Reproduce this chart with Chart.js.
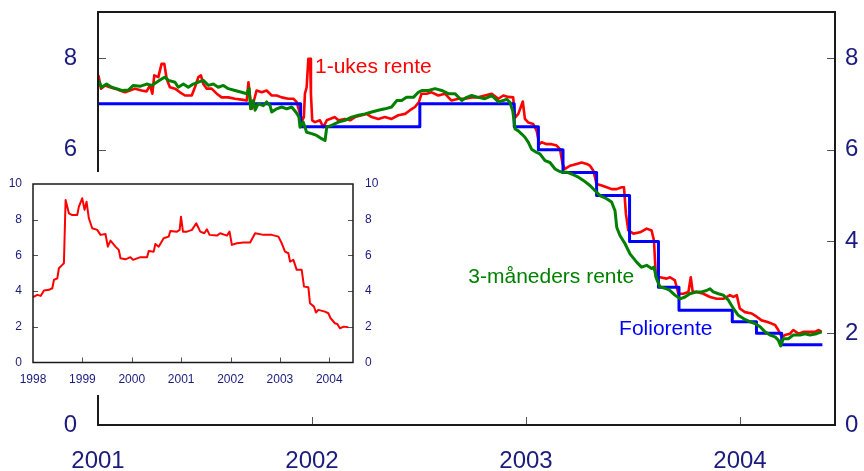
<!DOCTYPE html>
<html>
<head>
<meta charset="utf-8">
<script src="https://cdn.jsdelivr.net/npm/chart.js@4"></script>
<style>
  body { margin: 0; background: #fff; }
  #wrap { position: relative; width: 864px; height: 471px; }
  #main { position: absolute; left: 0; top: 0; }
  #inset { position: absolute; left: 0; top: 172px; background: #fff; }
</style>
</head>
<body>
<div id="wrap">
  <canvas id="main" width="864" height="471"></canvas>
  <canvas id="inset" width="385" height="223"></canvas>
</div>
<script>
// hovedfigur: år som desimaltall, rente i prosent
var mainYears = [2001, 2002, 2003, 2004];
var mainLevels = [0, 2, 4, 6, 8];

var folioX = [2001.0, 2001.947, 2002.504, 2002.945, 2003.058, 2003.173, 2003.33, 2003.484, 2003.619, 2003.715, 2003.964, 2004.077, 2004.195, 2004.385];
var folioY = [7.0, 6.5, 7.0, 6.5, 6.0, 5.5, 5.0, 4.0, 3.0, 2.5, 2.25, 2.0, 1.75, 1.75];

var ukesX = [2001.002, 2001.014, 2001.033, 2001.056, 2001.079, 2001.103, 2001.126, 2001.149, 2001.173, 2001.204,
  2001.227, 2001.243, 2001.254, 2001.263, 2001.282, 2001.297, 2001.310, 2001.321, 2001.336, 2001.360,
  2001.383, 2001.407, 2001.438, 2001.453, 2001.469, 2001.481, 2001.492, 2001.508, 2001.531, 2001.555,
  2001.578, 2001.609, 2001.640, 2001.671, 2001.695, 2001.703, 2001.710, 2001.718, 2001.731, 2001.741,
  2001.765, 2001.788, 2001.812, 2001.835, 2001.858, 2001.889, 2001.913, 2001.928, 2001.944, 2001.955,
  2001.962, 2001.967, 2001.975, 2001.983, 2001.991, 2001.995, 2002.001, 2002.014, 2002.037, 2002.053,
  2002.069, 2002.084, 2002.107, 2002.123, 2002.154, 2002.178, 2002.201, 2002.232, 2002.255, 2002.279,
  2002.310, 2002.341, 2002.372, 2002.403, 2002.435, 2002.458, 2002.481, 2002.500, 2002.512, 2002.536,
  2002.559, 2002.590, 2002.621, 2002.652, 2002.684, 2002.715, 2002.746, 2002.777, 2002.808, 2002.840,
  2002.871, 2002.894, 2002.917, 2002.940, 2002.949, 2002.964, 2002.975, 2002.985, 2002.995, 2003.011,
  2003.034, 2003.050, 2003.062, 2003.073, 2003.097, 2003.120, 2003.143, 2003.159, 2003.171, 2003.182,
  2003.206, 2003.237, 2003.260, 2003.284, 2003.299, 2003.315, 2003.330, 2003.354, 2003.377, 2003.400,
  2003.424, 2003.447, 2003.458, 2003.467, 2003.478, 2003.502, 2003.533, 2003.564, 2003.587, 2003.598,
  2003.607, 2003.626, 2003.657, 2003.673, 2003.696, 2003.712, 2003.735, 2003.759, 2003.770, 2003.779,
  2003.798, 2003.829, 2003.860, 2003.891, 2003.922, 2003.953, 2003.969, 2003.985, 2003.999, 2004.023,
  2004.055, 2004.078, 2004.101, 2004.125, 2004.148, 2004.164, 2004.179, 2004.195, 2004.210, 2004.234,
  2004.249, 2004.273, 2004.296, 2004.327, 2004.351, 2004.366, 2004.382];
var ukesY = [7.62, 7.33, 7.40, 7.36, 7.33, 7.29, 7.25, 7.29, 7.33, 7.29,
  7.27, 7.40, 7.22, 7.62, 7.58, 7.87, 7.87, 7.54, 7.36, 7.33,
  7.25, 7.18, 7.18, 7.36, 7.58, 7.62, 7.43, 7.33, 7.33, 7.22,
  7.14, 7.14, 7.11, 7.09, 7.07, 7.47, 7.18, 6.89, 7.11, 7.29,
  7.25, 7.29, 7.18, 7.18, 7.14, 7.11, 7.11, 7.04, 6.78, 6.64,
  6.71, 7.22, 7.36, 7.98, 7.98, 7.22, 6.64, 6.60, 6.64, 6.49,
  6.64, 6.67, 6.71, 6.64, 6.67, 6.64, 6.71, 6.75, 6.78, 6.71,
  6.67, 6.71, 6.67, 6.75, 6.78, 6.86, 6.93, 7.04, 7.22, 7.22,
  7.25, 7.18, 7.22, 7.07, 7.11, 7.11, 7.14, 7.14, 7.18, 7.22,
  7.11, 7.18, 7.15, 7.14, 6.70, 6.78, 6.92, 7.05, 6.67, 6.59,
  6.56, 6.41, 6.12, 6.16, 6.12, 6.12, 6.09, 6.01, 5.69, 5.58,
  5.65, 5.69, 5.72, 5.69, 5.65, 5.54, 5.25, 5.22, 5.18, 5.14,
  5.14, 5.18, 5.18, 4.60, 4.24, 4.17, 4.20, 4.28, 4.24, 4.02,
  3.22, 3.22, 3.19, 3.22, 3.15, 2.86, 2.86, 2.90, 3.22, 2.90,
  2.90, 2.86, 2.79, 2.75, 2.75, 2.83, 2.79, 2.83, 2.54, 2.46,
  2.43, 2.36, 2.28, 2.25, 2.21, 2.18, 2.07, 1.92, 1.96, 1.99,
  2.07, 1.99, 2.03, 2.03, 2.03, 2.07, 2.03];

var mndX = [2001.002, 2001.017, 2001.040, 2001.064, 2001.087, 2001.111, 2001.142, 2001.165, 2001.196, 2001.227,
  2001.251, 2001.274, 2001.297, 2001.313, 2001.329, 2001.360, 2001.375, 2001.399, 2001.422, 2001.445,
  2001.469, 2001.492, 2001.516, 2001.539, 2001.562, 2001.586, 2001.609, 2001.640, 2001.671, 2001.695,
  2001.706, 2001.713, 2001.726, 2001.734, 2001.749, 2001.773, 2001.788, 2001.804, 2001.812, 2001.835,
  2001.858, 2001.882, 2001.905, 2001.928, 2001.939, 2001.944, 2001.959, 2001.975, 2001.998, 2002.022,
  2002.045, 2002.061, 2002.069, 2002.092, 2002.123, 2002.154, 2002.185, 2002.217, 2002.248, 2002.279,
  2002.310, 2002.341, 2002.372, 2002.396, 2002.419, 2002.442, 2002.474, 2002.497, 2002.513, 2002.544,
  2002.575, 2002.606, 2002.637, 2002.668, 2002.700, 2002.723, 2002.746, 2002.777, 2002.808, 2002.840,
  2002.871, 2002.894, 2002.910, 2002.925, 2002.938, 2002.949, 2002.964, 2002.980, 2002.995, 2003.011,
  2003.026, 2003.050, 2003.065, 2003.089, 2003.112, 2003.136, 2003.151, 2003.167, 2003.190, 2003.213,
  2003.245, 2003.268, 2003.299, 2003.322, 2003.346, 2003.377, 2003.400, 2003.416, 2003.424, 2003.439,
  2003.463, 2003.486, 2003.517, 2003.540, 2003.564, 2003.587, 2003.598, 2003.610, 2003.626, 2003.657,
  2003.673, 2003.696, 2003.720, 2003.743, 2003.766, 2003.798, 2003.821, 2003.844, 2003.860, 2003.875,
  2003.899, 2003.922, 2003.946, 2003.969, 2003.992, 2004.016, 2004.047, 2004.070, 2004.094, 2004.117,
  2004.140, 2004.164, 2004.179, 2004.190, 2004.202, 2004.226, 2004.249, 2004.281, 2004.304, 2004.327,
  2004.358, 2004.382];
var mndY = [7.51, 7.36, 7.43, 7.36, 7.33, 7.29, 7.30, 7.40, 7.38, 7.43,
  7.40, 7.47, 7.54, 7.58, 7.51, 7.47, 7.36, 7.43, 7.36, 7.43,
  7.47, 7.51, 7.40, 7.43, 7.36, 7.40, 7.33, 7.29, 7.25, 7.22,
  7.33, 6.89, 7.07, 6.86, 7.00, 6.96, 7.04, 6.96, 6.82, 6.89,
  6.93, 6.89, 6.93, 6.80, 6.71, 6.49, 6.60, 6.38, 6.35, 6.31,
  6.24, 6.20, 6.49, 6.53, 6.60, 6.64, 6.71, 6.75, 6.78, 6.82,
  6.86, 6.89, 6.93, 7.07, 7.07, 7.14, 7.14, 7.25, 7.29, 7.29,
  7.33, 7.29, 7.22, 7.22, 7.07, 7.14, 7.18, 7.14, 7.11, 7.18,
  7.04, 7.07, 7.10, 7.03, 6.85, 6.45, 6.41, 6.34, 6.27, 6.16,
  6.01, 5.94, 5.91, 5.76, 5.72, 5.58, 5.54, 5.51, 5.51, 5.47,
  5.40, 5.33, 5.22, 5.11, 5.00, 4.93, 4.86, 4.67, 4.31, 4.13,
  3.95, 3.73, 3.55, 3.44, 3.48, 3.41, 3.44, 3.19, 3.01, 2.97,
  2.93, 2.83, 2.75, 2.79, 2.86, 2.90, 2.90, 2.93, 2.97, 2.90,
  2.86, 2.83, 2.72, 2.54, 2.39, 2.32, 2.25, 2.21, 2.14, 2.03,
  1.96, 1.92, 1.85, 1.72, 1.88, 1.88, 1.96, 1.96, 1.99, 1.96,
  1.99, 2.03];

// innfelt figur: 1-ukes rente 1998-2004
var insetYears = [1998, 1999, 2000, 2001, 2002, 2003, 2004];
var insetLevels = [0, 2, 4, 6, 8, 10];
var insetX = [1998.000, 1998.088, 1998.155, 1998.222, 1998.323, 1998.391, 1998.424, 1998.492, 1998.525, 1998.593,
  1998.626, 1998.660, 1998.727, 1998.795, 1998.896, 1998.929, 1998.997, 1999.044, 1999.084, 1999.131,
  1999.199, 1999.300, 1999.367, 1999.468, 1999.515, 1999.569, 1999.670, 1999.737, 1999.771, 1999.872,
  1999.973, 2000.027, 2000.175, 2000.310, 2000.343, 2000.444, 2000.478, 2000.545, 2000.646, 2000.747,
  2000.781, 2000.916, 2000.970, 2000.997, 2001.037, 2001.118, 2001.219, 2001.306, 2001.387, 2001.468,
  2001.522, 2001.576, 2001.724, 2001.791, 2001.926, 2001.980, 2002.027, 2002.128, 2002.263, 2002.397,
  2002.498, 2002.667, 2002.835, 2002.970, 2003.037, 2003.104, 2003.172, 2003.205, 2003.273, 2003.340,
  2003.441, 2003.488, 2003.576, 2003.609, 2003.690, 2003.731, 2003.778, 2003.912, 2003.980, 2004.027,
  2004.114, 2004.162, 2004.215, 2004.296, 2004.384];
var insetY = [3.66, 3.79, 3.73, 4.03, 4.07, 4.16, 4.63, 4.72, 5.28, 5.47,
  5.56, 9.10, 8.36, 8.26, 8.26, 8.73, 9.20, 8.55, 9.01, 8.08,
  7.52, 7.43, 7.15, 7.20, 6.49, 6.83, 6.49, 6.31, 5.84, 5.78,
  5.90, 5.75, 5.90, 5.90, 6.25, 6.21, 6.64, 6.49, 6.96, 7.05,
  7.37, 7.33, 7.43, 8.17, 7.33, 7.33, 7.43, 7.80, 7.33, 7.24,
  7.46, 7.15, 7.11, 7.24, 7.11, 7.33, 6.59, 6.68, 6.72, 6.72,
  7.24, 7.15, 7.15, 7.05, 6.68, 6.21, 6.12, 5.65, 5.75, 5.19,
  5.19, 4.25, 4.21, 3.32, 3.13, 2.80, 2.95, 2.85, 2.76, 2.48,
  2.20, 2.16, 1.92, 2.01, 1.98];

var FONT = "'Liberation Sans', Arial, sans-serif";
var NAVY = "#1b1b7e";

function points(xs, ys) {
  return xs.map((x, i) => ({ x: x, y: ys[i] }));
}

// ramme, innovervendte streker og tekstetiketter
var frame = {
  id: "frame",
  afterDatasetsDraw(chart, args, o) {
    var ctx = chart.ctx;
    var a = chart.chartArea;
    var sx = chart.scales.x;
    ctx.save();
    ctx.strokeStyle = "#555";
    ctx.lineWidth = 1;
    ctx.beginPath();
    sx.ticks.forEach((t) => {
      var px = Math.round(sx.getPixelForValue(t.value)) + 0.5;
      if (px <= a.left + 2 || px >= a.right - 2) return;
      ctx.moveTo(px, a.bottom);
      ctx.lineTo(px, a.bottom - o.tick);
    });
    ["y", "y2"].forEach((id) => {
      var s = chart.scales[id];
      s.ticks.forEach((t) => {
        var py = Math.round(s.getPixelForValue(t.value)) + 0.5;
        if (py <= a.top + 2 || py >= a.bottom - 2) return;
        if (id === "y") {
          ctx.moveTo(a.left, py);
          ctx.lineTo(a.left + o.tick, py);
        } else {
          ctx.moveTo(a.right, py);
          ctx.lineTo(a.right - o.tick, py);
        }
      });
    });
    ctx.stroke();
    ctx.strokeStyle = "#1a1a1a";
    ctx.lineWidth = o.border;
    ctx.strokeRect(a.left, a.top, a.width, a.height);
    (o.labels || []).forEach((l) => {
      ctx.fillStyle = l.color;
      ctx.font = "21px " + FONT;
      ctx.textAlign = l.align;
      ctx.textBaseline = "middle";
      ctx.fillText(l.text, sx.getPixelForValue(l.x), chart.scales.y.getPixelForValue(l.y));
    });
    ctx.restore();
  },
};

function noPad(s) {
  s.paddingTop = 0;
  s.paddingBottom = 0;
  s.paddingLeft = 0;
  s.paddingRight = 0;
}

function valueAxis(pos, levels, max, width, size, pad) {
  return {
    type: "linear",
    position: pos,
    min: 0,
    max: max,
    afterBuildTicks: (s) => { s.ticks = levels.map((v) => ({ value: v })); },
    afterFit: (s) => { s.width = width; noPad(s); },
    grid: { display: false, drawTicks: false },
    border: { display: false },
    ticks: { color: NAVY, font: { family: FONT, size: size }, padding: pad, callback: (v) => String(v) },
  };
}

function yearAxis(years, min, max, height, size, pad) {
  return {
    type: "linear",
    min: min,
    max: max,
    afterBuildTicks: (s) => { s.ticks = years.map((v) => ({ value: v })); },
    afterFit: (s) => { s.height = height; noPad(s); },
    grid: { display: false, drawTicks: false },
    border: { display: false },
    ticks: { color: NAVY, font: { family: FONT, size: size }, padding: pad, maxRotation: 0, autoSkip: false, callback: (v) => String(v) },
  };
}

function line(data, color, width, extra) {
  return Object.assign({
    data: data,
    borderColor: color,
    borderWidth: width,
    pointRadius: 0,
    fill: false,
    tension: 0,
    borderJoinStyle: "round",
  }, extra || {});
}

new Chart(document.getElementById("main"), {
  type: "line",
  data: {
    datasets: [
      line(points(mndX, mndY), "#008000", 3, { order: 1 }),
      line(points(folioX, folioY), "#0000ff", 3, { order: 2, stepped: "before" }),
      line(points(ukesX, ukesY), "#ff0000", 2.6, { order: 3 }),
    ],
  },
  options: {
    responsive: false,
    animation: false,
    devicePixelRatio: 1,
    layout: { padding: { top: 12, left: 0, right: 0, bottom: 0 }, autoPadding: false },
    plugins: {
      legend: { display: false },
      tooltip: { enabled: false },
      frame: {
        tick: 8,
        border: 2,
        labels: [
          { text: "1-ukes rente", x: 2002.014, y: 7.8, color: "#ff0000", align: "left" },
          { text: "3-måneders rente", x: 2003.505, y: 3.23, color: "#008000", align: "right" },
          { text: "Foliorente", x: 2003.435, y: 2.08, color: "#0000ff", align: "left" },
        ],
      },
    },
    scales: {
      x: yearAxis(mainYears, 2001, 2004.444, 46, 24, 22),
      y: valueAxis("left", mainLevels, 9, 98, 24, 21),
      y2: valueAxis("right", mainLevels, 9, 29, 24, 10),
    },
  },
  plugins: [frame],
});

new Chart(document.getElementById("inset"), {
  type: "line",
  data: {
    datasets: [line(points(insetX, insetY), "#ff0000", 2)],
  },
  options: {
    responsive: false,
    animation: false,
    devicePixelRatio: 1,
    layout: { padding: { top: 12, left: 0, right: 0, bottom: 0 }, autoPadding: false },
    plugins: {
      legend: { display: false },
      tooltip: { enabled: false },
      frame: { tick: 5, border: 1.5 },
    },
    scales: {
      x: yearAxis(insetYears, 1998, 2004.48, 32.5, 12, 10),
      y: valueAxis("left", insetLevels, 10, 33, 12, 11),
      y2: valueAxis("right", insetLevels, 10, 32, 12, 12),
    },
  },
  plugins: [frame],
});
</script>
</body>
</html>
